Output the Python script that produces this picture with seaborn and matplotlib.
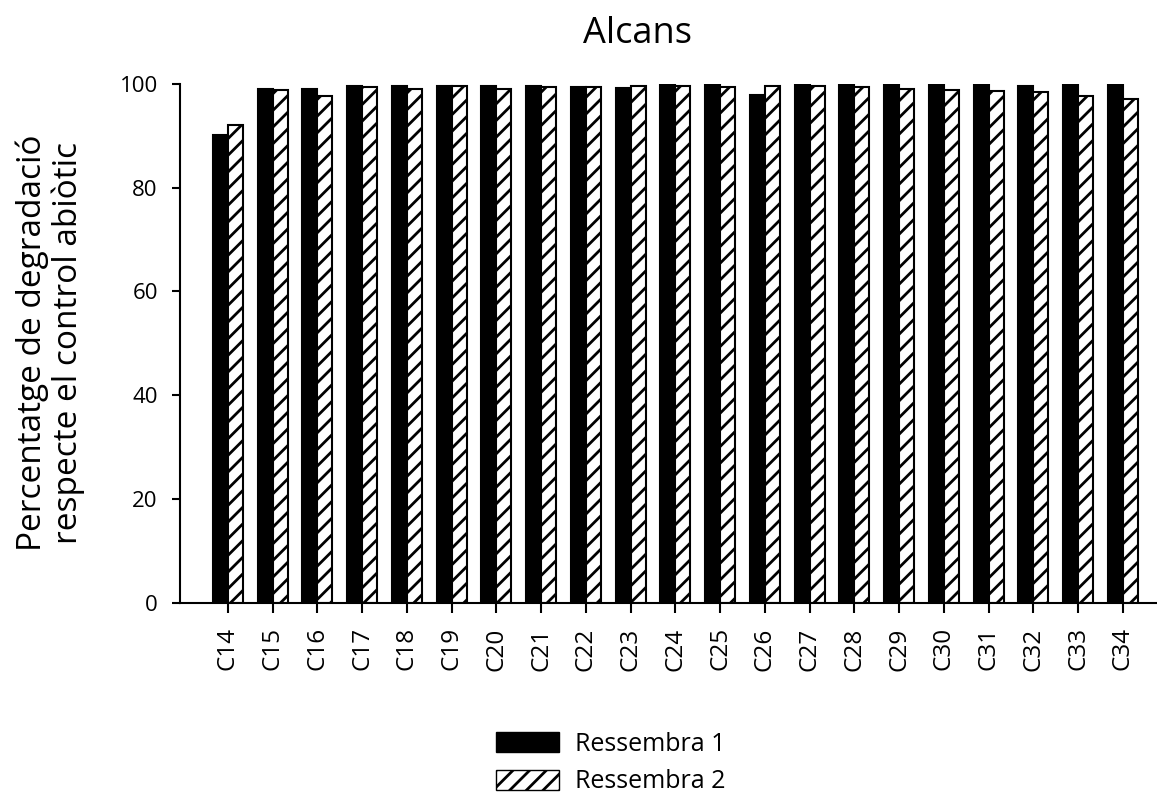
import matplotlib
matplotlib.use("Agg")
import matplotlib.pyplot as plt
import seaborn as sns
import pandas as pd
from matplotlib.patches import Patch

categories = ["C14", "C15", "C16", "C17", "C18", "C19", "C20", "C21", "C22", "C23", "C24",
              "C25", "C26", "C27", "C28", "C29", "C30", "C31", "C32", "C33", "C34"]
ressembra_1 = [90.2, 99.0, 99.0, 99.5, 99.5, 99.5, 99.5, 99.5, 99.4, 99.2, 99.8,
               99.8, 97.9, 99.8, 99.8, 99.8, 99.8, 99.8, 99.6, 99.8, 99.8]
ressembra_2 = [92.1, 98.7, 97.7, 99.3, 99.0, 99.5, 99.0, 99.3, 99.4, 99.5, 99.5,
               99.4, 99.5, 99.5, 99.3, 99.0, 98.7, 98.6, 98.4, 97.7, 97.1]
series_names = ["Ressembra 1", "Ressembra 2"]

df = pd.DataFrame({
    "cat": categories * 2,
    "val": ressembra_1 + ressembra_2,
    "serie": [series_names[0]] * len(categories) + [series_names[1]] * len(categories),
})

sns.set_theme(style="ticks")
plt.rcParams["font.family"] = ["Open Sans", "DejaVu Sans"]
plt.rcParams["hatch.linewidth"] = 2.0
plt.rcParams["text.color"] = "black"
plt.rcParams["xtick.color"] = "black"
plt.rcParams["ytick.color"] = "black"

fig = plt.figure(figsize=(11.57, 7.94), dpi=100)
ax = fig.add_axes([0.1556, 0.2406, 0.8444, 0.6540])

sns.barplot(data=df, x="cat", y="val", hue="serie", palette=["black", "white"],
            width=0.67, edgecolor="black", linewidth=1.5, ax=ax, legend=False,
            saturation=1)

for bar in ax.containers[1]:
    bar.set_hatch("//")

ax.set_ylim(0, 100)
ax.set_xlim(-1.07, 20.76)
ax.set_yticks([0, 20, 40, 60, 80, 100])
ax.tick_params(axis="y", labelsize=16, length=6, width=1.5, pad=10)
ax.tick_params(axis="x", labelsize=17.5, length=7.5, width=1.5, pad=10, rotation=90)
for s in ["top", "right"]:
    ax.spines[s].set_visible(False)
for s in ["left", "bottom"]:
    ax.spines[s].set_linewidth(1.5)
    ax.spines[s].set_color("black")
ax.set_xlabel("")
ax.set_ylabel("")

fig.text(637.5 / 1157, 1 - 43 / 794, "Alcans", fontsize=26, ha="center", va="baseline")
fig.text(50 / 1157, 1 - 343 / 794, "Percentatge de degradació\nrespecte el control abiòtic",
         fontsize=24, rotation=90, ha="center", va="center", multialignment="center",
         linespacing=1.1)

handles = [Patch(facecolor="black", edgecolor="black", label=series_names[0]),
           Patch(facecolor="white", edgecolor="black", hatch="//", label=series_names[1])]
fig.legend(handles=handles, loc="center", bbox_to_anchor=(0.528, 0.039), frameon=False,
           fontsize=18, handlelength=2.5, handleheight=0.85, labelspacing=0.5,
           handletextpad=0.65, borderpad=0.1)

fig.savefig("out.png", dpi=100)
